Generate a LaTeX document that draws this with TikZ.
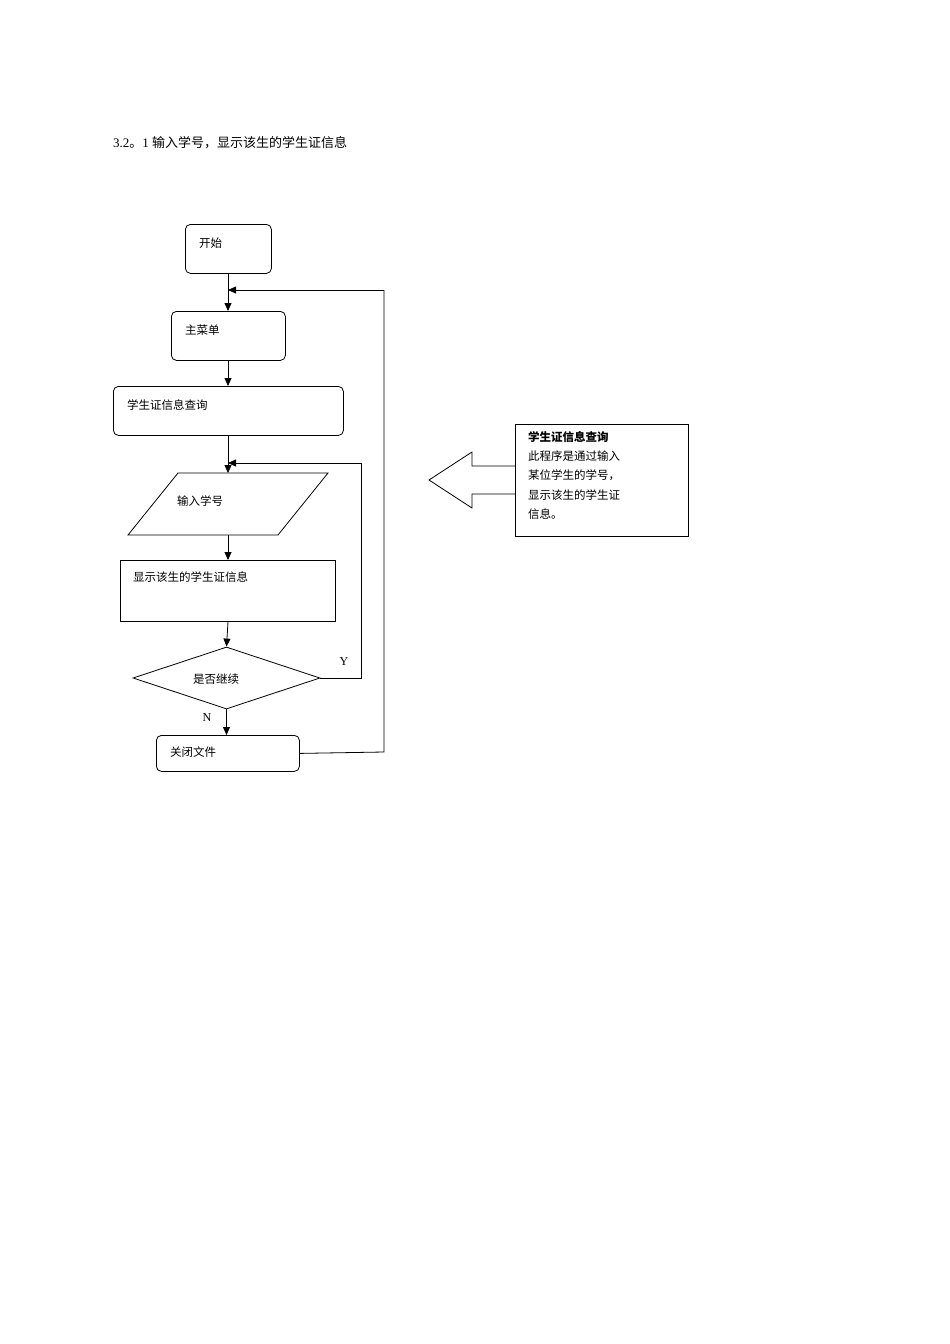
\documentclass[tikz,border=0pt]{standalone}
\usepackage{fontspec}
\setmainfont{Liberation Serif}
\newfontfamily\cjk{Noto Sans CJK SC}
\usetikzlibrary{shapes.geometric,arrows.meta}
\begin{document}
\begin{tikzpicture}[x=1pt,y=-1pt,
  box/.style={draw,line width=0.8pt,inner sep=0,anchor=north west},
  rbox/.style={box,rounded corners=5pt},
  txt/.style={anchor=west,inner sep=0,font=\cjk\fontsize{11.5}{14}\selectfont},
  arr/.style={line width=0.8pt,-{Triangle[length=8pt,width=7pt]}},
  ln/.style={line width=0.8pt}]
\useasboundingbox (0,0) rectangle (950,1344);
\node[anchor=west,inner sep=0,font=\fontsize{13}{15}\selectfont] (title) at (113,143) {3.2{\cjk 。}1 {\cjk 输入学号，显示该生的学生证信息}};
\node[rbox,minimum width=86,minimum height=49] (start) at (185,224) {};
\node[txt] at (199,243) {开始};
\node[rbox,minimum width=114,minimum height=49] (menu) at (171,311) {};
\node[txt] at (185,330) {主菜单};
\node[rbox,minimum width=230,minimum height=49] (query) at (113,386) {};
\node[txt] at (127,405) {学生证信息查询};
\coordinate (inTop) at (228,473);
\coordinate (inBot) at (228,535);
\draw[ln] (178,473) -- (328,473) -- (278,535) -- (128,535) -- cycle;
\node[txt] at (177,501) {输入学号};
\node[box,minimum width=215,minimum height=61] (show) at (120,560) {};
\node[txt] at (133,577) {显示该生的学生证信息};
\node[draw,line width=0.8pt,diamond,minimum width=187,minimum height=62,inner sep=0] (dec) at (226.5,678) {};
\node[txt] at (193,679) {是否继续};
\node[rbox,minimum width=143,minimum height=36] (close) at (156,735) {};
\node[txt] at (170,752) {关闭文件};
\node[anchor=center,inner sep=0,font=\fontsize{12}{14}\selectfont] (Y) at (344,662) {Y};
\node[anchor=center,inner sep=0,font=\fontsize{12}{14}\selectfont] (N) at (207,718) {N};
\coordinate (j1) at (228,290);
\coordinate (j2) at (228,463);
\coordinate (r1) at (384,752);
\coordinate (r2) at (384,290);
\coordinate (y1) at (361,678);
\coordinate (y2) at (361,463);
\draw[arr] (start.south -| j1) -- (menu.north -| j1);
\draw[arr] (menu.south -| j1) -- (query.north -| j1);
\draw[arr] (query.south -| j1) -- (inTop);
\draw[arr] (inBot) -- (show.north -| j1);
\draw[arr] (show.south -| j1) -- (dec.north);
\draw[arr] (dec.south) -- (close.north -| dec.south);
\draw[ln] (close.east) -- (r1) -- (r2);
\draw[arr] (r2) -- (j1);
\draw[ln] (dec.east) -- (y1) -- (y2);
\draw[arr] (y2) -- (j2);
\node[box,minimum width=173,minimum height=112] (info) at (515,424) {};
\node[anchor=north west,inner sep=0,align=left,font=\cjk\fontsize{11.5}{19.3}\selectfont] (infot) at (528,431) {\textbf{学生证信息查询}\\此程序是通过输入\\某位学生的学号，\\显示该生的学生证\\信息。};
\draw[ln] (info.west |- 0,466) -- (472,466) -- (472,452) -- (429,480) -- (472,508) -- (472,494) -- (info.west |- 0,494);
\end{tikzpicture}
\end{document}
